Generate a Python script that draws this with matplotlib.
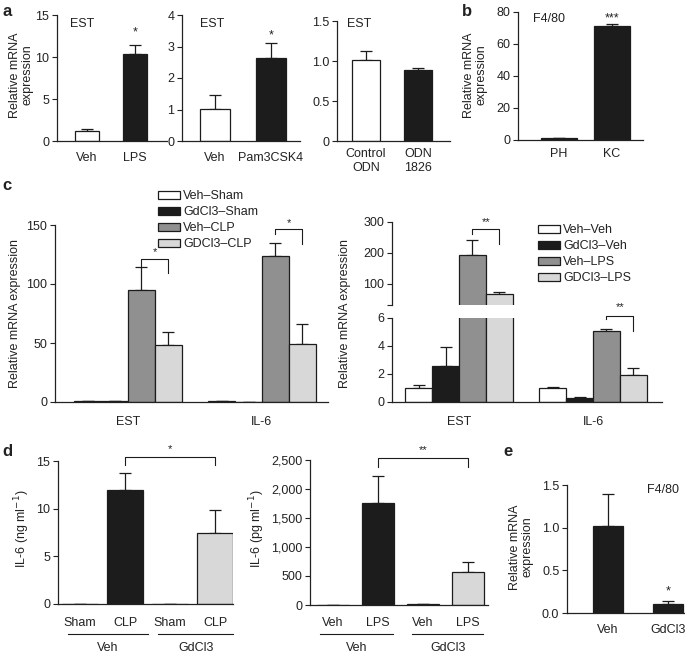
import matplotlib.pyplot as plt
import numpy as np

FS = 9
plt.rcParams['font.family'] = ['Liberation Sans', 'DejaVu Sans']
plt.rcParams['font.size'] = FS
plt.rcParams['text.color'] = '#222222'
plt.rcParams['axes.edgecolor'] = '#222222'
plt.rcParams['xtick.color'] = '#222222'
plt.rcParams['ytick.color'] = '#222222'

# ---- data ----
# panel a
a1_labels = ['Veh', 'LPS']
a1_mean = [1.2, 10.3]
a1_sem = [0.2, 1.1]
a2_labels = ['Veh', 'Pam3CSK4']
a2_mean = [1.03, 2.62]
a2_sem = [0.42, 0.48]
a3_labels = ['Control\nODN', 'ODN\n1826']
a3_mean = [1.01, 0.89]
a3_sem = [0.11, 0.02]
# panel b
b_labels = ['PH', 'KC']
b_mean = [1.0, 71.5]
b_sem = [0.3, 0.8]
# panel c
genes = ['EST', 'IL-6']
cl_series = ['Veh\u2013Sham', 'GdCl3\u2013Sham', 'Veh\u2013CLP', 'GDCl3\u2013CLP']
cl_mean = [[1.0, 1.0], [0.8, 0.3], [95, 124], [48, 49]]
cl_sem = [[0, 0], [0, 0], [19, 11], [11, 17]]
cr_series = ['Veh\u2013Veh', 'GdCl3\u2013Veh', 'Veh\u2013LPS', 'GDCl3\u2013LPS']
cr_mean = [[1.0, 1.0], [2.6, 0.3], [195, 5.1], [68, 1.95]]
cr_sem = [[0.2, 0.1], [1.3, 0.05], [47, 0.15], [7, 0.45]]
# panel d
dl_labels = ['Sham', 'CLP', 'Sham', 'CLP']
dl_mean = [0, 12.0, 0, 7.4]
dl_sem = [0, 1.7, 0, 2.5]
dr_labels = ['Veh', 'LPS', 'Veh', 'LPS']
dr_mean = [0, 1760, 10, 570]
dr_sem = [0, 470, 0, 170]
d_groups = ['Veh', 'GdCl3']
# panel e
e_labels = ['Veh', 'GdCl3']
e_mean = [1.02, 0.11]
e_sem = [0.37, 0.03]

BLACK = '#1c1c1c'
DARK = '#909090'
LIGHT = '#d8d8d8'
WHITE = 'white'
four_colors = [WHITE, BLACK, DARK, LIGHT]

W, H = 685, 655
fig = plt.figure(figsize=(W / 100, H / 100), dpi=100)


def axpx(l, t, r, b):
    ax = fig.add_axes([l / W, 1 - b / H, (r - l) / W, (b - t) / H])
    for s in ['top', 'right']:
        ax.spines[s].set_visible(False)
    for s in ['left', 'bottom']:
        ax.spines[s].set_linewidth(0.9)
    ax.tick_params(direction='out', length=3.5, width=0.8, labelsize=FS, pad=2)
    return ax


def xspan(ax, l, r, c0, unit):
    ax.set_xlim((l - c0) / unit, (r - c0) / unit)


def ftext(x, y, s, **kw):
    kw.setdefault('ha', 'center')
    kw.setdefault('va', 'center')
    fig.text(x / W, 1 - y / H, s, **kw)


def bars(ax, x, mean, sem, colors, width, **kw):
    ax.bar(x, mean, width, color=colors, edgecolor=BLACK, linewidth=0.9, zorder=2, **kw)
    lo = np.zeros(len(mean))
    ax.errorbar(x, mean, yerr=[lo, sem], fmt='none', ecolor=BLACK,
                elinewidth=0.9, capsize=4.5, capthick=0.9, zorder=1)


def bracket(ax, x0, x1, yh, yl0, yl1, star, ys):
    ax.plot([x0, x0, x1, x1], [yl0, yh, yh, yl1], color=BLACK, lw=0.8, clip_on=False)
    ax.text((x0 + x1) / 2, ys, star, ha='center', va='center', fontsize=8)


# ---- panel a ----
ax = axpx(57, 15, 167, 141)
xspan(ax, 57, 167, 87, 48)
bars(ax, np.arange(2), a1_mean, a1_sem, [WHITE, BLACK], 0.52)
ax.set_ylim(0, 15)
ax.set_yticks([0, 5, 10, 15])
ax.set_xticks(range(2), a1_labels)
ax.tick_params(axis='x', length=0, pad=8)
ax.text(1, 12.6, '*', ha='center', fontsize=9)
ftext(70, 24, 'EST', ha='left')

ax = axpx(182, 15, 300, 141)
xspan(ax, 182, 300, 215, 56)
bars(ax, np.arange(2), a2_mean, a2_sem, [WHITE, BLACK], 0.54)
ax.set_ylim(0, 4)
ax.set_yticks([0, 1, 2, 3, 4])
ax.set_xticks(range(2), a2_labels)
ax.tick_params(axis='x', length=0, pad=8)
ax.text(1, 3.25, '*', ha='center', fontsize=9)
ftext(200, 24, 'EST', ha='left')

ax = axpx(337, 21, 450, 141)
xspan(ax, 337, 450, 366, 52)
bars(ax, np.arange(2), a3_mean, a3_sem, [WHITE, BLACK], 0.52)
ax.set_ylim(0, 1.5)
ax.set_yticks([0, 0.5, 1.0, 1.5], ['0', '0.5', '1.0', '1.5'])
ax.set_xticks(range(2), a3_labels)
ax.tick_params(axis='x', length=0, pad=5)
ftext(347, 24, 'EST', ha='left')

ftext(21, 75, 'Relative mRNA\nexpression', rotation=90, linespacing=1.05)
ftext(7, 11, 'a', fontsize=12, fontweight='bold')

# ---- panel b ----
ax = axpx(518, 12, 643, 140)
xspan(ax, 518, 643, 559, 53)
bars(ax, np.arange(2), b_mean, b_sem, [BLACK, BLACK], 0.68)
ax.set_ylim(0, 80)
ax.set_yticks([0, 20, 40, 60, 80])
ax.set_xticks(range(2), b_labels)
ax.tick_params(axis='x', length=0, pad=6)
ax.text(1, 74, '***', ha='center', fontsize=9)
ftext(533, 19, 'F4/80', ha='left')
ftext(475, 75, 'Relative mRNA\nexpression', rotation=90, linespacing=1.05)
ftext(467, 11, 'b', fontsize=12, fontweight='bold')

# ---- panel c left ----
bw = 0.2
offs = (np.arange(4) - 1.5) * bw
gx = np.arange(2)
ax = axpx(55, 225, 328, 402)
xspan(ax, 55, 328, 128, 134)
for i in range(4):
    bars(ax, gx + offs[i], cl_mean[i], cl_sem[i], four_colors[i], bw, label=cl_series[i])
ax.set_ylim(0, 150)
ax.set_yticks([0, 50, 100, 150])
ax.set_xticks(gx, genes)
ax.tick_params(axis='x', length=0, pad=10)
bracket(ax, offs[2], offs[3], 121, 115, 109, '*', 127)
bracket(ax, 1 + offs[2], 1 + offs[3], 146.5, 142, 134, '*', 152)
ax.legend(loc='upper left', bbox_to_anchor=(158 / W, 1 - 190 / H), bbox_transform=fig.transFigure,
          frameon=False, fontsize=FS, handlelength=1.75, handleheight=0.6,
          handletextpad=0.25, labelspacing=0.32, borderpad=0, borderaxespad=0)
ftext(15, 314, 'Relative mRNA expression', rotation=90)
ftext(7, 186, 'c', fontsize=12, fontweight='bold')

# ---- panel c right (broken axis) ----
axu = axpx(392, 222, 662, 305)
axl = axpx(392, 318, 662, 402)
axu.spines['bottom'].set_visible(False)
axu.tick_params(axis='x', bottom=False, labelbottom=False)
for a in (axu, axl):
    xspan(a, 392, 662, 459, 134)
    for i in range(4):
        bars(a, gx + offs[i], cr_mean[i], cr_sem[i], four_colors[i], bw, label=cr_series[i])
axu.set_ylim(32, 300)
axu.set_yticks([32, 100, 200, 300], ['', '100', '200', '300'])
axl.set_ylim(0, 6)
axl.set_yticks([0, 2, 4, 6])
axl.set_xticks(gx, genes)
axl.tick_params(axis='x', length=0, pad=10)
bracket(axu, offs[2], offs[3], 277, 262, 229, '**', 301)
bracket(axl, 1 + offs[2], 1 + offs[3], 6.14, 5.9, 5.06, '**', 6.75)
axu.legend(loc='upper left', bbox_to_anchor=(538 / W, 1 - 224 / H), bbox_transform=fig.transFigure,
           frameon=False, fontsize=FS, handlelength=1.75, handleheight=0.6,
           handletextpad=0.25, labelspacing=0.32, borderpad=0, borderaxespad=0)
ftext(345, 314, 'Relative mRNA expression', rotation=90)

# ---- panel d left ----
dx = np.arange(4)
ax = axpx(58, 461, 233, 604)
xspan(ax, 58, 233, 80, 45)
bars(ax, dx, dl_mean, dl_sem, [BLACK, BLACK, LIGHT, LIGHT], 0.8)
ax.set_ylim(0, 15)
ax.set_yticks([0, 5, 10, 15])
ax.set_xticks(dx, dl_labels)
ax.tick_params(axis='x', length=0, pad=9)
bracket(ax, 1, 3, 15.4, 14.6, 14.6, '*', 16.2)
tr = ax.get_xaxis_transform()
ax.plot([-0.27, 1.5], [-0.21, -0.21], color=BLACK, lw=0.8, transform=tr, clip_on=False)
ax.plot([1.73, 3.4], [-0.21, -0.21], color=BLACK, lw=0.8, transform=tr, clip_on=False)
ax.text(0.62, -0.305, d_groups[0], transform=tr, ha='center', va='center')
ax.text(2.57, -0.305, d_groups[1], transform=tr, ha='center', va='center')
ftext(22, 529, 'IL-6 (ng ml$^{-1}$)', rotation=90)
ftext(7, 452, 'd', fontsize=12, fontweight='bold')

# ---- panel d right ----
ax = axpx(310, 460, 488, 605)
xspan(ax, 310, 488, 333, 45)
bars(ax, dx, dr_mean, dr_sem, [BLACK, BLACK, LIGHT, LIGHT], 0.7)
ax.set_ylim(0, 2500)
ax.set_yticks([0, 500, 1000, 1500, 2000, 2500], ['0', '500', '1,000', '1,500', '2,000', '2,500'])
ax.set_xticks(dx, dr_labels)
ax.tick_params(axis='x', length=0, pad=9)
bracket(ax, 1, 3, 2534, 2380, 2380, '**', 2672)
tr = ax.get_xaxis_transform()
ax.plot([-0.29, 1.33], [-0.2, -0.2], color=BLACK, lw=0.8, transform=tr, clip_on=False)
ax.plot([1.76, 3.33], [-0.2, -0.2], color=BLACK, lw=0.8, transform=tr, clip_on=False)
ax.text(0.52, -0.295, d_groups[0], transform=tr, ha='center', va='center')
ax.text(2.55, -0.295, d_groups[1], transform=tr, ha='center', va='center')
ftext(257, 529, 'IL-6 (pg ml$^{-1}$)', rotation=90)

# ---- panel e ----
ax = axpx(567, 485, 685, 613)
xspan(ax, 567, 685, 608, 60)
bars(ax, np.arange(2), e_mean, e_sem, [BLACK, BLACK], 0.5)
ax.set_ylim(0, 1.5)
ax.set_yticks([0, 0.5, 1.0, 1.5], ['0.0', '0.5', '1.0', '1.5'])
ax.set_xticks(range(2), e_labels)
ax.tick_params(axis='x', length=0, pad=8)
ax.text(1, 0.22, '*', ha='center', fontsize=9)
ftext(647, 490, 'F4/80', ha='left')
ftext(521, 547, 'Relative mRNA\nexpression', rotation=90, linespacing=1.05)
ftext(508, 452, 'e', fontsize=12, fontweight='bold')

fig.savefig('out.png', dpi=100)
